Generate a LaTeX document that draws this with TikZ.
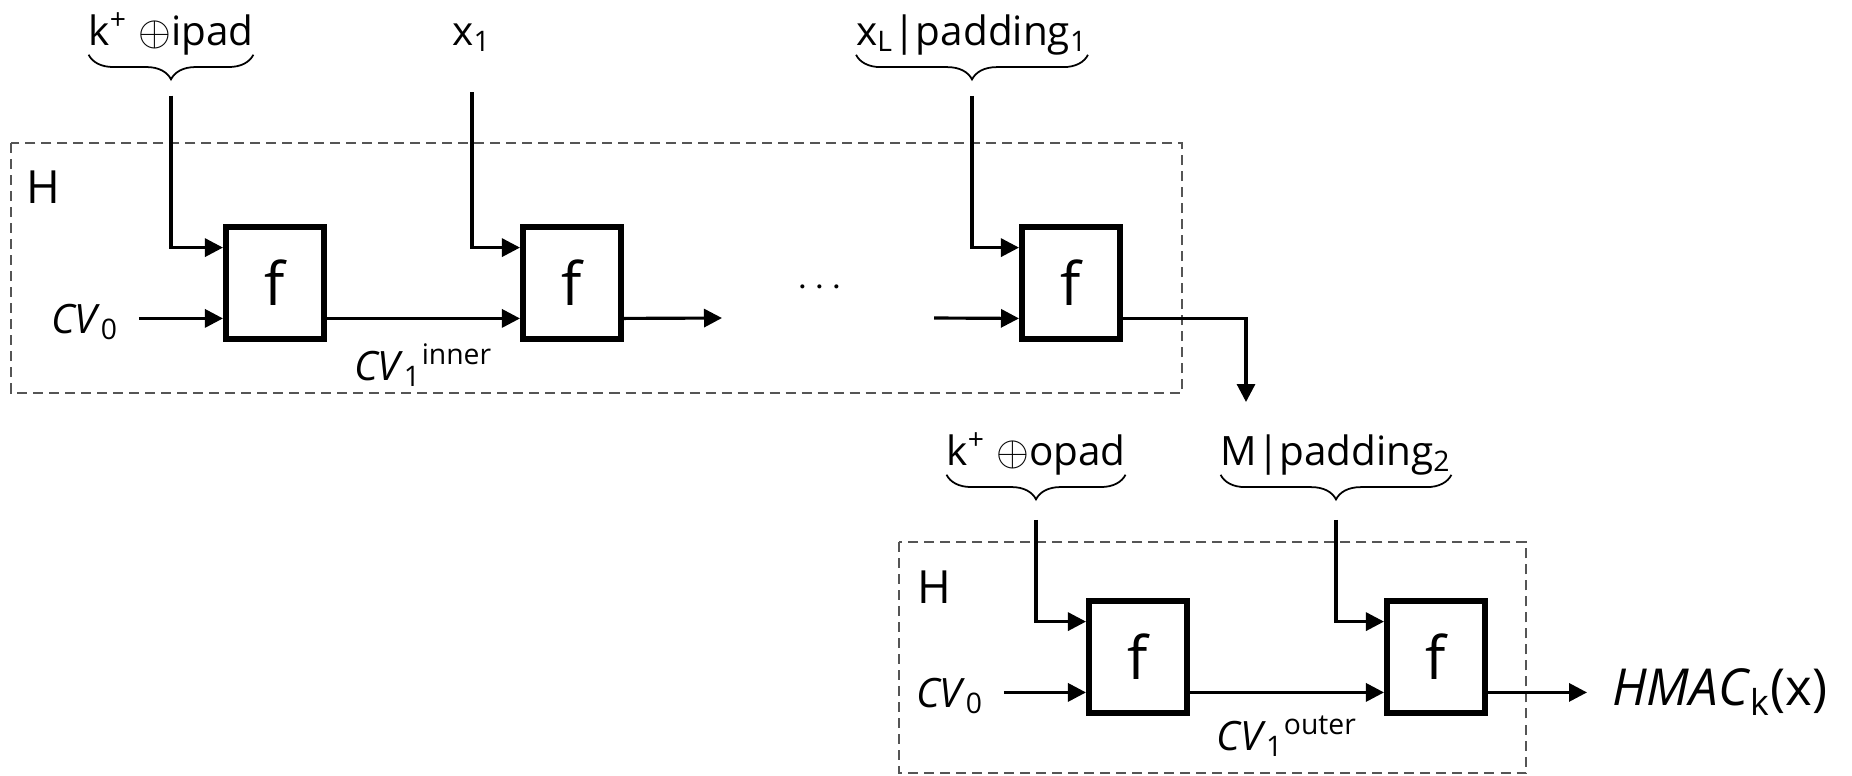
\documentclass[tikz,border=0pt]{standalone}
\usepackage{fontspec}
\setmainfont{Open Sans}
\usepackage{tikz}
\usetikzlibrary{arrows.meta,positioning,calc,decorations.pathreplacing}
\definecolor{frame}{HTML}{555555}

\begin{document}
\begin{tikzpicture}[
        x=0.01cm, y=-0.01cm,
        fbox/.style={rectangle, draw, line width=1.7pt, minimum width=0.98cm, minimum height=1.12cm,
                     inner sep=0pt, font=\fontsize{17}{19}\selectfont},
        lbl/.style={inner sep=0pt, outer sep=0pt, anchor=base, font=\fontsize{11.5}{13}\selectfont},
        port/.style={lbl, outer sep=0.2cm},
        tag/.style={inner sep=0pt, font=\fontsize{11.5}{13}\selectfont},
        hbox/.style={draw=frame, line width=0.6pt, dash pattern=on 1mm off 0.6mm},
        flow/.style={-{Triangle[length=1.8mm, width=1.8mm]}, line width=0.9pt},
        brc/.style={decorate, decoration={brace, amplitude=7pt}, line width=0.5pt}
    ]
        \useasboundingbox (0,0) rectangle (1852,775);

        % hash frames
        \draw[hbox] (11,143) rectangle (1182,393);
        \draw[hbox] (899,542) rectangle (1526,773);
        \node[inner sep=0pt, anchor=north west, font=\fontsize{13}{15}\selectfont] (h1) at (26,170) {H};
        \node[inner sep=0pt, anchor=north west, font=\fontsize{13}{15}\selectfont] (h2) at (917,570) {H};

        % compression boxes
        \node[fbox] (f1) at (275,283) {f};
        \node[fbox] (f2) at (572,283) {f};
        \node[fbox] (f3) at (1071,283) {f};
        \node[fbox] (f4) at (1138,657) {f};
        \node[fbox] (f5) at (1436,657) {f};
        \foreach \b in {f1,f2,f3,f4,f5} {
            \coordinate (\b-top) at ($(\b.north west)!0.2!(\b.south west)$);
            \coordinate (\b-bot) at ($(\b.north west)!0.8!(\b.south west)$);
        }

        % inner hash inputs
        \node[lbl] (kin) at (171,45) {k\textsuperscript{+} $\oplus$ipad};
        \node[lbl] (xone) at (472,45) {x\textsubscript{1}};
        \node[lbl] (xlast) at (972,45) {x\textsubscript{L}|padding\textsubscript{1}};
        \draw[brc] (kin.south east) -- (kin.south west);
        \draw[brc] (xlast.south east) -- (xlast.south west);
        \draw[flow] ([yshift=-0.41cm]kin.south) |- (f1-top);
        \draw[flow] ([yshift=-0.41cm]xone.south) |- (f2-top);
        \draw[flow] ([yshift=-0.41cm]xlast.south) |- (f3-top);

        % inner chain
        \node[port] (cv0a) at (85,333) {\textit{CV}\textsubscript{0}};
        \coordinate (gapl) at (722,318);
        \coordinate (gapr) at (934,318);
        \coordinate (hin) at (1246,402);
        \node[font=\fontsize{11}{13}\selectfont] (dots) at (820,288) {$\cdots$};
        \draw[flow] (cv0a.east |- f1-bot) -- (f1-bot);
        \draw[flow] (f1-bot -| f1.east) -- node[tag, below=0.24cm]{\textit{CV}\textsubscript{1}\textsuperscript{inner}} (f2-bot);
        \draw[flow] (f2-bot -| f2.east) -- (gapl);
        \draw[flow] (gapr) -- (f3-bot);
        \draw[flow] (f3-bot -| f3.east) -| (hin);

        % outer hash inputs
        \node[lbl] (kout) at (1036,465) {k\textsuperscript{+} $\oplus$opad};
        \node[lbl] (mpad) at (1336,465) {M|padding\textsubscript{2}};
        \draw[brc] (kout.south east) -- (kout.south west);
        \draw[brc] (mpad.south east) -- (mpad.south west);
        \draw[flow] ([yshift=-0.45cm]kout.south) |- (f4-top);
        \draw[flow] ([yshift=-0.45cm]mpad.south) |- (f5-top);

        % outer chain
        \node[port] (cv0b) at (950,707) {\textit{CV}\textsubscript{0}};
        \node[inner sep=0pt, outer sep=0.25cm, anchor=west, font=\fontsize{14.5}{17}\selectfont] (hmac) at (1587,692)
            {\textit{HMAC}\textsubscript{k}(x)};
        \draw[flow] (cv0b.east |- f4-bot) -- (f4-bot);
        \draw[flow] (f4-bot -| f4.east) -- node[tag, below=0.22cm]{\textit{CV}\textsubscript{1}\textsuperscript{outer}} (f5-bot);
        \draw[flow] (f5-bot -| f5.east) -- (f5-bot -| hmac.west);
    \end{tikzpicture}
\end{document}
